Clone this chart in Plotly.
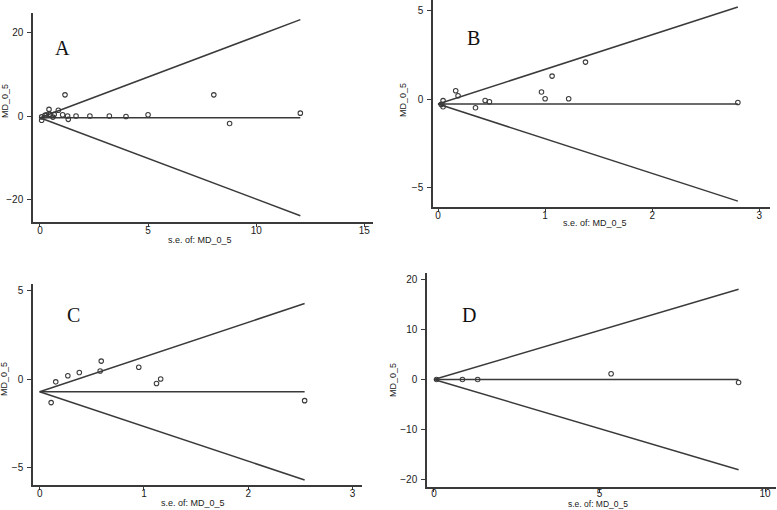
import plotly.graph_objects as go

W, H = 777, 510

# ---- Panel A ----
a_se = [0.08, 0.08, 0.23, 0.30, 0.42, 0.46, 0.60, 0.66, 0.85, 1.05, 1.16, 1.28, 1.31, 1.67, 2.31, 3.21, 3.98, 5.0, 8.04, 8.77, 12.04]
a_md = [-1.0, -0.2, 0.15, 0.3, 1.6, 0.4, -0.25, 0.4, 1.4, 0.3, 5.1, 0.0, -0.8, 0.0, 0.0, 0.0, -0.1, 0.3, 5.1, -1.8, 0.7]
a_pooled = -0.4
a_xticks = [0, 5, 10, 15]
a_yticks = [-20, 0, 20]

# ---- Panel B ----
b_se = [0.03, 0.047, 0.047, 0.165, 0.187, 0.35, 0.44, 0.48, 0.966, 1.0, 1.065, 1.22, 1.377, 2.80]
b_md = [-0.3, -0.09, -0.43, 0.47, 0.19, -0.49, -0.08, -0.15, 0.40, 0.02, 1.30, 0.02, 2.09, -0.19]
b_pooled = -0.28
b_xticks = [0, 1, 2, 3]
b_yticks = [-5, 0, 5]

# ---- Panel C ----
c_se = [0.11, 0.154, 0.27, 0.38, 0.58, 0.59, 0.95, 1.12, 1.16, 2.54]
c_md = [-1.31, -0.14, 0.20, 0.39, 0.47, 1.03, 0.68, -0.23, 0.02, -1.2]
c_pooled = -0.70
c_xticks = [0, 1, 2, 3]
c_yticks = [-5, 0, 5]

# ---- Panel D ----
d_se = [0.08, 0.86, 1.32, 5.35, 9.2]
d_md = [0.0, 0.0, 0.0, 1.14, -0.6]
d_pooled = 0.0
d_xticks = [0, 5, 10]
d_yticks = [-20, -10, 0, 10, 20]

panels = [
    dict(se=a_se, md=a_md, pooled=a_pooled, xt=a_xticks, yt=a_yticks, label="A",
         px=(33, 373), py=(13, 222), xr=[-0.32, 15.4], yr=[-25.5, 24.8],
         lab=(62, 48), xtitle=(200, 240), ytitle=(5, 101), xstand=-5, tsize=9),
    dict(se=b_se, md=b_md, pooled=b_pooled, xt=b_xticks, yt=b_yticks, label="B",
         px=(433, 770), py=(0, 207), xr=[-0.047, 3.1], yr=[-6.1, 5.6],
         lab=(473, 38), xtitle=(595, 223), ytitle=(403, 100), xstand=-5, tsize=9),
    dict(se=c_se, md=c_md, pooled=c_pooled, xt=c_xticks, yt=c_yticks, label="C",
         px=(33, 362), py=(284, 485), xr=[-0.064, 3.09], yr=[-5.96, 5.38],
         lab=(73, 315), xtitle=(193, 502.5), ytitle=(4, 379), xstand=-5, tsize=9),
    dict(se=d_se, md=d_md, pooled=d_pooled, xt=d_xticks, yt=d_yticks, label="D",
         px=(427, 776), py=(273, 487), xr=[-0.21, 10.33], yr=[-21.5, 21.3],
         lab=(469, 315), xtitle=(598, 504), ytitle=(393, 380), xstand=-7, tsize=8.5),
]

fig = go.Figure()
LC = "#3a3a3a"
TF = dict(family="Liberation Sans, Arial", size=10, color="#1a1a1a")
annotations = []
for i, p in enumerate(panels):
    n = "" if i == 0 else str(i + 1)
    xa, ya = "x" + n, "y" + n
    smax = max(p["se"])
    pooled = p["pooled"]
    # pseudo 95% confidence limits of the funnel
    fig.add_trace(go.Scatter(x=[0, smax], y=[pooled, pooled + 1.96 * smax], mode="lines",
                             line=dict(color=LC, width=1.5), xaxis=xa, yaxis=ya, showlegend=False))
    fig.add_trace(go.Scatter(x=[0, smax], y=[pooled, pooled - 1.96 * smax], mode="lines",
                             line=dict(color=LC, width=1.5), xaxis=xa, yaxis=ya, showlegend=False))
    fig.add_trace(go.Scatter(x=[0, smax], y=[pooled, pooled], mode="lines",
                             line=dict(color=LC, width=1.5), xaxis=xa, yaxis=ya, showlegend=False))
    fig.add_trace(go.Scatter(x=p["se"], y=p["md"], mode="markers",
                             marker=dict(symbol="circle-open", size=4.5, color=LC, line=dict(width=1.1)),
                             xaxis=xa, yaxis=ya, showlegend=False))
    ax = dict(domain=[p["px"][0] / W, p["px"][1] / W], range=p["xr"], tickvals=p["xt"],
              showgrid=False, zeroline=False, showline=True, linecolor=LC, linewidth=1.5,
              ticks="outside", ticklen=3, tickcolor=LC, tickwidth=1.2, tickfont=TF,
              ticklabelstandoff=p["xstand"], anchor=ya)
    ay = dict(domain=[1 - p["py"][1] / H, 1 - p["py"][0] / H], range=p["yr"], tickvals=p["yt"],
              showgrid=False, zeroline=False, showline=True, linecolor=LC, linewidth=1.5,
              ticks="outside", ticklen=4, tickcolor=LC, tickwidth=1.2, tickfont=TF,
              ticklabelstandoff=2, anchor=xa)
    fig.update_layout(**{"xaxis" + n: ax, "yaxis" + n: ay})
    annotations.append(dict(x=p["lab"][0] / W, y=1 - p["lab"][1] / H, xref="paper", yref="paper",
                            xanchor="center", yanchor="middle",
                            text=p["label"], showarrow=False,
                            font=dict(family="Liberation Serif, Times New Roman", size=20, color="#111")))
    annotations.append(dict(x=p["xtitle"][0] / W, y=1 - p["xtitle"][1] / H, xref="paper", yref="paper",
                            xanchor="center", yanchor="middle",
                            text="s.e. of: MD_0_5", showarrow=False,
                            font=dict(family="Liberation Sans, Arial", size=p["tsize"], color="#1a1a1a")))
    annotations.append(dict(x=p["ytitle"][0] / W, y=1 - p["ytitle"][1] / H, xref="paper", yref="paper",
                            xanchor="center", yanchor="middle",
                            text="MD_0_5", showarrow=False, textangle=-90,
                            font=dict(family="Liberation Sans, Arial", size=9, color="#1a1a1a")))

fig.update_layout(width=W, height=H, margin=dict(l=0, r=0, t=0, b=0),
                  paper_bgcolor="white", plot_bgcolor="white", annotations=annotations)
fig.write_html("out.html", config={"displayModeBar": False},
               post_script="document.body.style.margin='0';document.body.style.overflow='hidden';")
